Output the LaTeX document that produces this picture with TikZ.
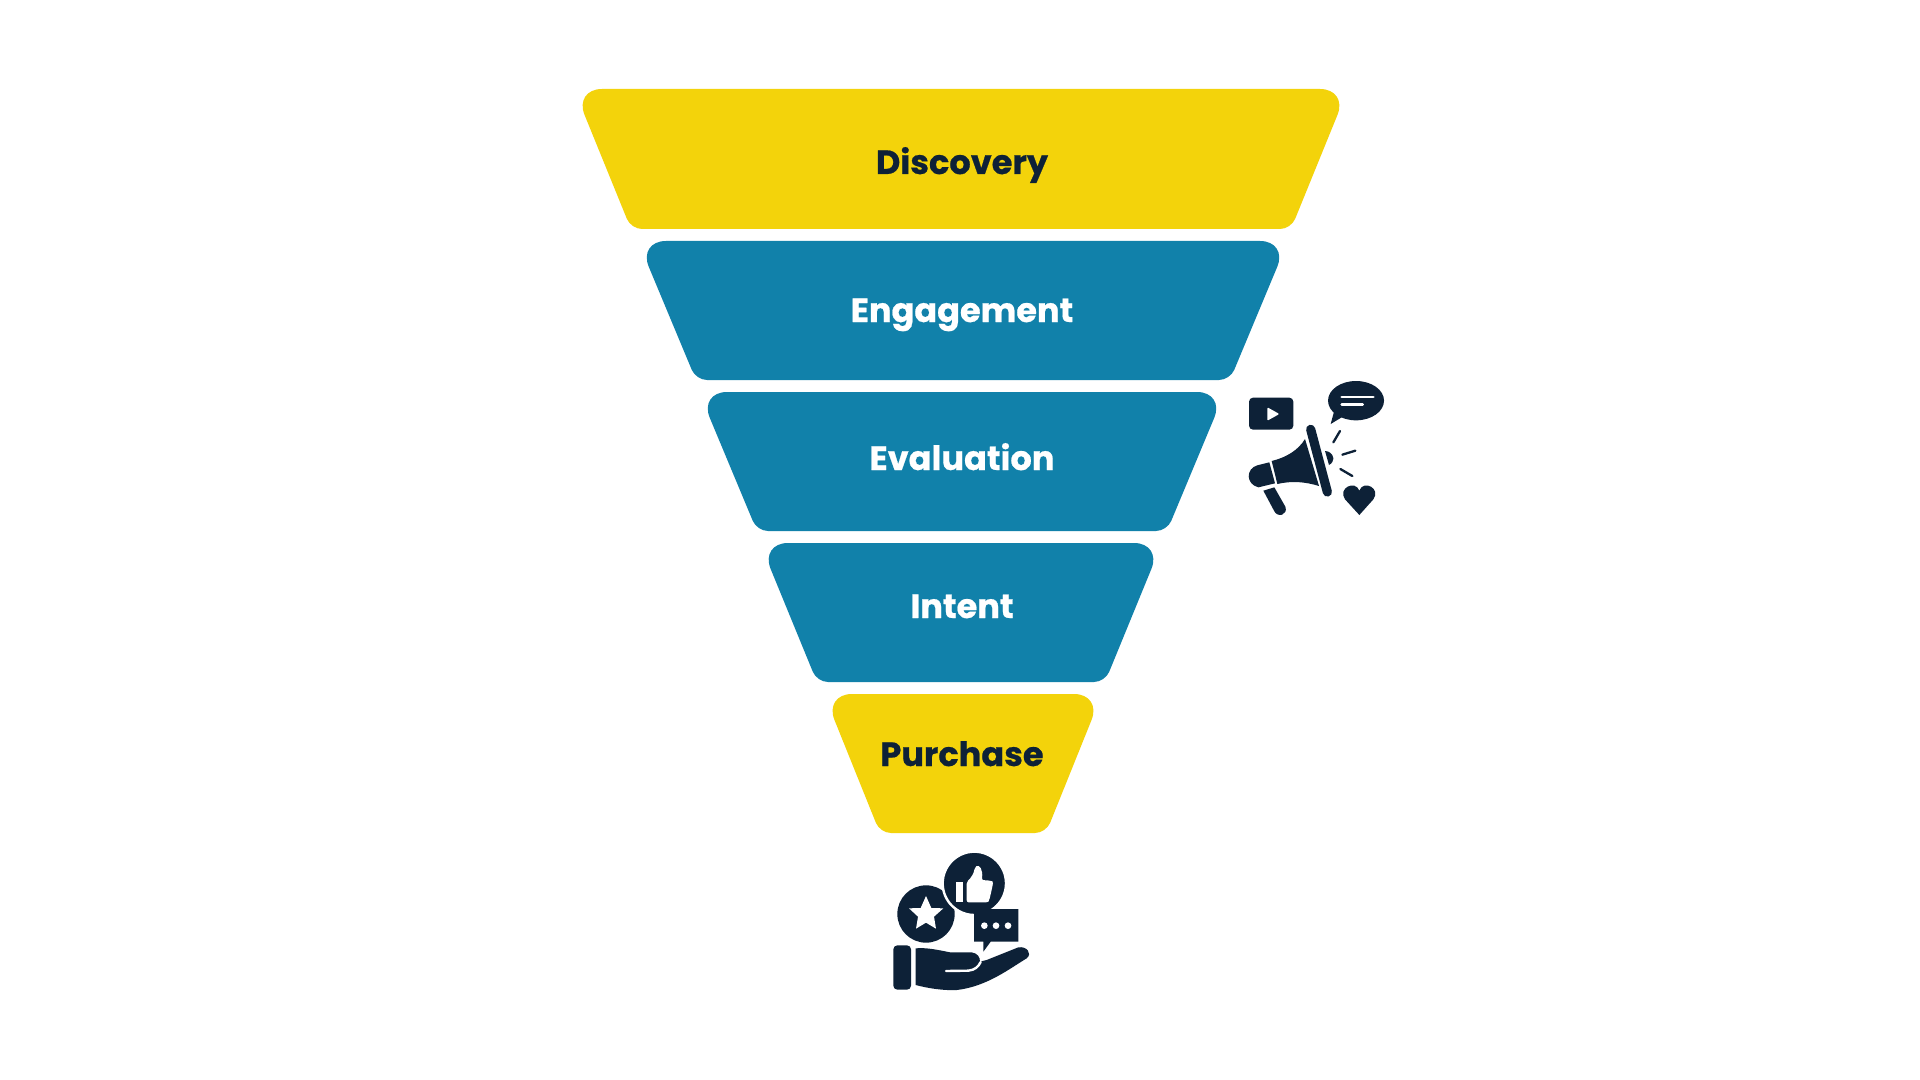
\documentclass[tikz,border=0pt]{standalone}
\usepackage{fontspec}
\setmainfont{Poppins}[BoldFeatures={FakeBold=0.6}]
\definecolor{fyellow}{HTML}{F3D30B}
\definecolor{fblue}{HTML}{1181AA}
\definecolor{fnavy}{HTML}{0D2137}
\tikzset{
  lbl/.style={font=\fontsize{16.8}{20}\selectfont\bfseries,inner sep=0pt,anchor=base},
  ink/.style={fill=fnavy,draw=none},
  icon/.style={x=0.16667pt,y=-0.16667pt},
}
\newcommand{\bandshape}[6]{% colour, centre x, top y, bottom y, top half width, bottom half width
  \fill[#1] (#2,#3) [rounded corners=14pt] -- (#2-#5,#3) [rounded corners=5.5pt] -- (#2-#6,#4) -- (#2+#6,#4) [rounded corners=14pt] -- (#2+#5,#3) [sharp corners] -- cycle;
}
\begin{document}
\begin{tikzpicture}[x=0.5pt,y=-0.5pt]
\useasboundingbox[fill=white] (0,0) rectangle (1920,1080);
% funnel bands
\bandshape{fyellow}{961}{89}{229}{387}{330}
\bandshape{fblue}{963}{241}{380}{325}{267}
\bandshape{fblue}{962}{392}{531}{263}{205}
\bandshape{fblue}{961}{543}{682}{201}{144}
\bandshape{fyellow}{963}{694}{833}{139}{83}
\node[lbl,text=fnavy] (discovery) at (962,174) {Discovery};
\node[lbl,text=white] (engagement) at (962,322) {Engagement};
\node[lbl,text=white] (evaluation) at (962,470) {Evaluation};
\node[lbl,text=white] (intent) at (962,618) {Intent};
\node[lbl,text=fnavy] (purchase) at (962,766) {Purchase};
% megaphone icon
\begin{scope}[shift={(1220,360)},icon]
\fill[ink,rounded corners=2pt] (87,113) rectangle (220,209);
\fill[white,rounded corners=0.5pt] (142,142) -- (178,162) -- (142,182) -- cycle;
\fill[ink] (408,122) ellipse [x radius=84,y radius=59];
\fill[ink] (342,155) -- (332,192) -- (365,172) -- cycle;
\draw[white,line width=1.3pt,line cap=round] (365,111) -- (460,111) (365,134) -- (428,134);
\draw[fnavy,line width=1.15pt,line cap=round] (340,247) -- (360,213) (367,284) -- (406,272) (361,327) -- (397,348);
\draw[fnavy,line width=4.6pt,line cap=round] (272,208) -- (322,396);
\fill[ink] (155,303) .. controls (200,292) and (235,270) .. (255,237) -- (297,378) .. controls (255,365) and (215,362) .. (172,372) -- cycle;
\fill[ink] (148,307) -- (112,316) .. controls (78,325) and (76,372) .. (115,382) -- (165,370) -- cycle;
\fill[ink] (130,392) -- (163,382) -- (196,440) .. controls (205,465) and (172,475) .. (162,452) -- cycle;
\fill[ink] (315,273) -- (325,275) .. controls (345,285) and (345,305) .. (327,315) -- cycle;
\fill[ink] (418,465) -- (375,418) .. controls (352,385) and (405,358) .. (418,392) .. controls (430,358) and (484,385) .. (460,418) -- cycle;
\end{scope}
% hand icon
\begin{scope}[shift={(870,840)},icon]
\fill[ink] (168,222) circle [radius=86];
\fill[white] (168,168) -- (184,204) -- (220,205) -- (192,230) -- (198,266) -- (168,248) -- (138,266) -- (144,230) -- (117,205) -- (152,204) -- cycle;
\fill[ink,draw=white,line width=1.2pt] (313,130) circle [radius=95];
\fill[white] (257,125) rectangle (278,185);
\fill[white,rounded corners=1pt] (290,125) .. controls (302,115) and (312,100) .. (314,82) .. controls (328,72) and (340,90) .. (335,120) -- (362,122) .. controls (370,125) and (368,135) .. (366,145) -- (358,180) .. controls (354,187) and (345,187) .. (335,187) -- (290,187) -- cycle;
\fill[ink] (312,207) -- (445,207) -- (445,305) -- (362,305) -- (340,335) -- (340,305) -- (312,305) -- cycle;
\fill[white] (343,257) circle [radius=10] (378,257) circle [radius=10] (414,257) circle [radius=10];
\fill[ink,rounded corners=2pt] (70,316) rectangle (123,449);
\fill[ink] (137,325) .. controls (170,322) and (205,330) .. (240,337) -- (305,337) .. controls (322,340) and (330,350) .. (330,365) -- (350,360) -- (445,322) .. controls (470,318) and (488,340) .. (470,355) .. controls (420,385) and (350,440) .. (260,450) .. controls (220,452) and (175,445) .. (137,435) -- cycle;
\draw[white,line width=1.2pt,line cap=round] (228,393) -- (295,392) .. controls (315,390) and (325,380) .. (332,366);
\end{scope}
\end{tikzpicture}
\end{document}
